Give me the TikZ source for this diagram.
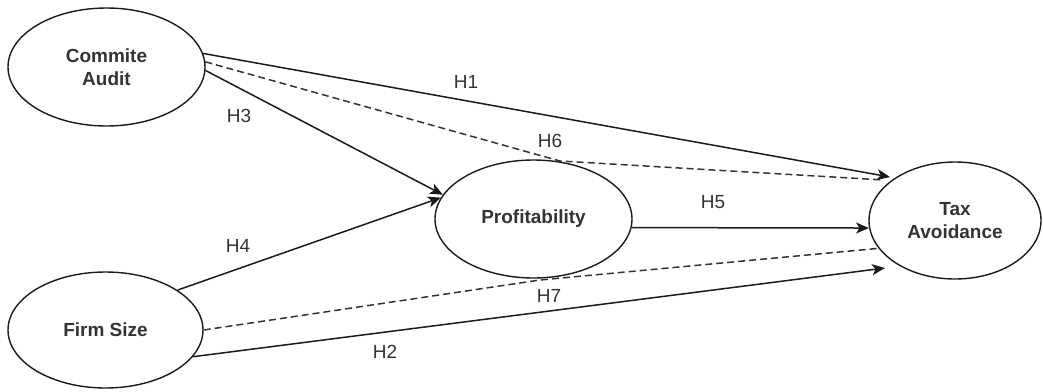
\documentclass[tikz,border=0pt]{standalone}
\usepackage{fontspec}
\setmainfont{Liberation Sans}
\usetikzlibrary{shapes.geometric,arrows.meta}
\definecolor{txtgray}{HTML}{333333}
\definecolor{linegray}{HTML}{1A1A1A}
\definecolor{dashgray}{HTML}{333333}
\begin{document}
\begin{tikzpicture}[x=1pt,y=-1pt,
  var/.style={ellipse,draw=linegray,line width=1.4pt,inner sep=0pt,
    font=\fontsize{19}{23}\selectfont\bfseries,text=txtgray,align=center},
  hyp/.style={font=\fontsize{19}{23}\selectfont,text=txtgray,inner sep=0pt},
  conn/.style={draw=linegray,line width=1.5pt},
  arr/.style={conn,-{Stealth[length=13pt,width=11pt,inset=3.5pt]}},
  dashedconn/.style={conn,draw=dashgray,dash pattern=on 7pt off 4pt}]
\useasboundingbox (0,0) rectangle (1043,391);
\node[var,minimum width=197pt,minimum height=118pt] (ca) at (106.5,67) {Commite\\Audit};
\node[var,minimum width=195pt,minimum height=116pt] (fs) at (105.5,330) {Firm Size};
\node[var,minimum width=197pt,minimum height=118pt] (pr) at (533.5,219) {Profitability};
\node[var,minimum width=172pt,minimum height=117pt] (tax) at (955,220.5) {Tax\\Avoidance};
\coordinate (t1) at (890,177);
\coordinate (b6) at (560,161);
\coordinate (t6) at (884,180);
\coordinate (b7) at (540,280);
\coordinate (t2) at (885,268);
\draw[arr] (ca.8) -- (t1);
\draw[dashedconn] (ca.3) -- (b6) -- (t6);
\draw[arr] (ca.-2) -- (pr.165);
\draw[arr] (fs.29) -- (pr.167);
\draw[arr] (pr.-5) -- (tax.185);
\draw[dashedconn] (fs.east) -- (b7) -- (tax.200);
\draw[arr] (fs.-17) -- (t2);
\node[hyp] (h1) at (466,82) {H1};
\node[hyp] (h3) at (239,116) {H3};
\node[hyp] (h6) at (550,141) {H6};
\node[hyp] (h4) at (238,246) {H4};
\node[hyp] (h5) at (713,202) {H5};
\node[hyp] (h7) at (549,296) {H7};
\node[hyp] (h2) at (385,352) {H2};
\end{tikzpicture}
\end{document}
